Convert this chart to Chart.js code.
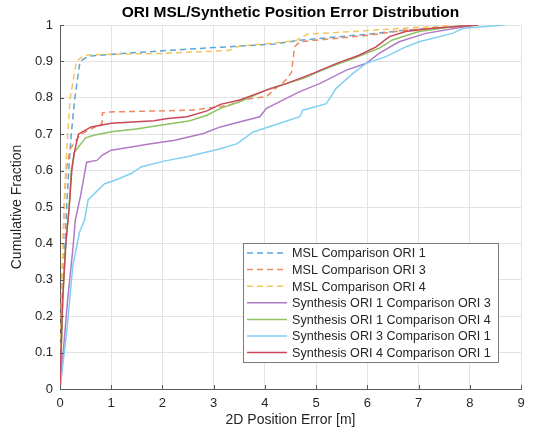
<!DOCTYPE html>
<html lang="en">
<head>
<meta charset="UTF-8" />
<title>ORI MSL/Synthetic Position Error Distribution</title>
<style>
  * { margin: 0; padding: 0; box-sizing: border-box; }
  html, body { width: 534px; height: 441px; background: #fff; overflow: hidden; }
  .wrap { position: relative; width: 534px; height: 441px; }
</style>
</head>
<body>
<div class="wrap"><canvas id="grafico"></canvas></div>
<script src="https://cdn.jsdelivr.net/npm/chart.js"></script>
<script>
// axis ticks
const xTicks = [0, 1, 2, 3, 4, 5, 6, 7, 8, 9];
const yTicks = [0, 0.1, 0.2, 0.3, 0.4, 0.5, 0.6, 0.7, 0.8, 0.9, 1];

// series names
const seriesNames = [
  'MSL Comparison ORI 1',
  'MSL Comparison ORI 3',
  'MSL Comparison ORI 4',
  'Synthesis ORI 1 Comparison ORI 3',
  'Synthesis ORI 1 Comparison ORI 4',
  'Synthesis ORI 3 Comparison ORI 1',
  'Synthesis ORI 4 Comparison ORI 1'
];

// values (x = error in m, y = cumulative fraction)
const msl1X = [0, 0.05, 0.13, 0.17, 0.22, 0.29, 0.39, 0.5, 0.6, 1.23, 2.0, 3.0, 3.52, 4.2, 4.61, 5.07, 6.04, 6.75, 7.27, 7.35];
const msl1Y = [0, 0.25, 0.5, 0.6, 0.7, 0.8, 0.9, 0.91, 0.915, 0.922, 0.929, 0.938, 0.942, 0.948, 0.957, 0.963, 0.975, 0.986, 0.99, 1.0];

const msl3X = [0, 0.03, 0.08, 0.12, 0.2, 0.4, 0.82, 0.83, 0.97, 2.54, 2.87, 3.32, 3.51, 4.03, 4.2, 4.42, 4.52, 4.58, 4.68, 5.07, 6.04, 6.75, 7.66, 8.17];
const msl3Y = [0, 0.25, 0.5, 0.6, 0.66, 0.7, 0.729, 0.759, 0.761, 0.766, 0.771, 0.78, 0.794, 0.803, 0.825, 0.85, 0.87, 0.94, 0.954, 0.959, 0.972, 0.986, 0.995, 1.0];

const msl4X = [0, 0.03, 0.08, 0.11, 0.15, 0.2, 0.32, 0.45, 0.6, 1.2, 2.0, 3.3, 3.39, 3.5, 4.0, 4.61, 4.7, 4.84, 5.72, 7.01, 7.27, 7.6];
const msl4Y = [0, 0.25, 0.5, 0.6, 0.7, 0.8, 0.9, 0.915, 0.918, 0.92, 0.922, 0.93, 0.936, 0.942, 0.948, 0.957, 0.965, 0.975, 0.982, 0.994, 0.995, 1.0];

const syn13X = [0, 0.04, 0.15, 0.25, 0.3, 0.4, 0.49, 0.52, 0.72, 0.82, 1.0, 1.39, 1.77, 2.22, 2.8, 3.13, 3.52, 3.9, 4.03, 4.68, 5.07, 5.59, 5.97, 6.23, 6.62, 7.14, 8.11];
const syn13Y = [0, 0.062, 0.246, 0.383, 0.465, 0.53, 0.6, 0.623, 0.628, 0.642, 0.656, 0.665, 0.674, 0.683, 0.702, 0.72, 0.734, 0.748, 0.771, 0.817, 0.839, 0.876, 0.894, 0.922, 0.954, 0.977, 1.0];

const syn14X = [0, 0.05, 0.1, 0.18, 0.22, 0.28, 0.5, 0.66, 1.0, 1.49, 2.02, 2.54, 2.87, 3.13, 3.51, 4.1, 4.74, 5.2, 5.72, 6.23, 6.49, 7.01, 7.92];
const syn14Y = [0, 0.22, 0.38, 0.5, 0.6, 0.65, 0.69, 0.697, 0.707, 0.714, 0.726, 0.737, 0.752, 0.771, 0.789, 0.826, 0.853, 0.881, 0.908, 0.936, 0.959, 0.982, 1.0];

const syn31X = [0, 0.05, 0.13, 0.19, 0.25, 0.38, 0.48, 0.55, 0.87, 1.06, 1.39, 1.58, 2.03, 2.48, 2.87, 3.13, 3.46, 3.77, 4.68, 4.74, 5.2, 5.39, 5.72, 5.97, 6.36, 6.75, 7.01, 7.66, 7.88, 8.69];
const syn31Y = [0, 0.062, 0.154, 0.246, 0.338, 0.43, 0.465, 0.52, 0.564, 0.573, 0.592, 0.61, 0.626, 0.638, 0.651, 0.66, 0.674, 0.706, 0.748, 0.766, 0.784, 0.826, 0.867, 0.894, 0.913, 0.94, 0.954, 0.977, 0.991, 1.0];

const syn41X = [0, 0.05, 0.12, 0.18, 0.23, 0.28, 0.36, 0.48, 0.61, 1.0, 1.84, 2.1, 2.48, 2.87, 3.13, 3.51, 4.03, 4.42, 4.94, 5.39, 5.84, 6.17, 6.43, 6.75, 7.27, 8.17];
const syn41Y = [0, 0.246, 0.41, 0.5, 0.6, 0.65, 0.7, 0.71, 0.72, 0.73, 0.737, 0.743, 0.748, 0.764, 0.782, 0.794, 0.821, 0.839, 0.867, 0.894, 0.917, 0.94, 0.968, 0.982, 0.991, 1.0];

const seriesX = [msl1X, msl3X, msl4X, syn13X, syn14X, syn31X, syn41X];
const seriesY = [msl1Y, msl3Y, msl4Y, syn13Y, syn14Y, syn31Y, syn41Y];
const colors = ['#5aa6dc', '#ef8a5e', '#f4c661', '#b07ac6', '#90c260', '#80d0f2', '#c8485a'];
const dashed = [true, true, true, false, false, false, false];

const FONT = '"Liberation Sans", Arial, Helvetica, sans-serif';
const TXT = '#262626';

const datasets = seriesNames.map((name, i) => ({
  label: name,
  data: seriesX[i].map((x, j) => ({ x: x, y: seriesY[i][j] })),
  borderColor: colors[i],
  backgroundColor: colors[i],
  borderWidth: 1.5,
  borderDash: dashed[i] ? [6, 4] : [],
  pointRadius: 0,
  tension: 0,
  fill: false,
  order: -i
}));

// title, inner tick marks and the boxed legend inside the plot
const extras = {
  id: 'extras',
  afterDraw(chart) {
    const ctx = chart.ctx;
    const a = chart.chartArea;
    const sx = chart.scales.x, sy = chart.scales.y;
    ctx.save();

    // title
    ctx.fillStyle = '#000';
    ctx.font = 'bold 15.5px ' + FONT;
    ctx.textAlign = 'center';
    ctx.textBaseline = 'middle';
    ctx.fillText('ORI MSL/Synthetic Position Error Distribution', (a.left + a.right) / 2, 13);

    // small inward tick marks
    ctx.strokeStyle = '#5a5a5a';
    ctx.lineWidth = 1;
    ctx.beginPath();
    xTicks.forEach(v => {
      const px = Math.round(sx.getPixelForValue(v)) + 0.5;
      ctx.moveTo(px, a.bottom); ctx.lineTo(px, a.bottom - 4);
    });
    yTicks.forEach(v => {
      const py = Math.round(sy.getPixelForValue(v)) + 0.5;
      ctx.moveTo(a.left, py); ctx.lineTo(a.left + 4, py);
    });
    ctx.stroke();

    // legend
    const lx = 243, ly = 243, lw = 255, lh = 119, row = 16.6;
    ctx.fillStyle = '#fff';
    ctx.fillRect(lx, ly, lw, lh);
    ctx.strokeStyle = '#7a7a7a';
    ctx.strokeRect(lx + 0.5, ly + 0.5, lw, lh);
    ctx.font = '12.6px ' + FONT;
    ctx.textAlign = 'left';
    chart.data.datasets.forEach((ds, i) => {
      const y = ly + 10 + i * row;
      ctx.strokeStyle = ds.borderColor;
      ctx.lineWidth = 1.5;
      ctx.setLineDash(ds.borderDash);
      ctx.beginPath();
      ctx.moveTo(lx + 4, y); ctx.lineTo(lx + 44, y);
      ctx.stroke();
      ctx.setLineDash([]);
      ctx.fillStyle = TXT;
      ctx.fillText(ds.label, lx + 49, y + 1);
    });
    ctx.restore();
  }
};

new Chart(document.getElementById('grafico').getContext('2d'), {
  type: 'line',
  data: { datasets: datasets },
  plugins: [extras],
  options: {
    responsive: true,
    maintainAspectRatio: false,
    animation: false,
    layout: { padding: { top: 25, right: 13, bottom: 8, left: 0 } },
    plugins: {
      legend: { display: false },
      tooltip: { enabled: false }
    },
    scales: {
      x: {
        type: 'linear',
        min: 0, max: 9,
        afterFit: s => { s.height = 44; },
        afterBuildTicks: s => { s.ticks = xTicks.map(v => ({ value: v })); },
        ticks: { color: TXT, font: { family: FONT, size: 13 }, padding: 7, maxRotation: 0 },
        grid: { color: '#e3e3e3', drawTicks: false },
        border: { color: '#5a5a5a' },
        title: { display: true, text: '2D Position Error [m]', color: TXT, font: { family: FONT, size: 14 }, padding: { top: 0, bottom: 4 } }
      },
      y: {
        type: 'linear',
        min: 0, max: 1,
        afterFit: s => { s.width = 60; },
        afterBuildTicks: s => { s.ticks = yTicks.map(v => ({ value: v })); },
        ticks: { color: TXT, font: { family: FONT, size: 13 }, padding: 7, callback: v => String(Math.round(v * 10) / 10) },
        grid: { color: '#e3e3e3', drawTicks: false },
        border: { color: '#5a5a5a' },
        title: { display: true, text: 'Cumulative Fraction', color: TXT, font: { family: FONT, size: 14 }, padding: { top: 9, bottom: 0 } }
      }
    }
  }
});
</script>
</body>
</html>
